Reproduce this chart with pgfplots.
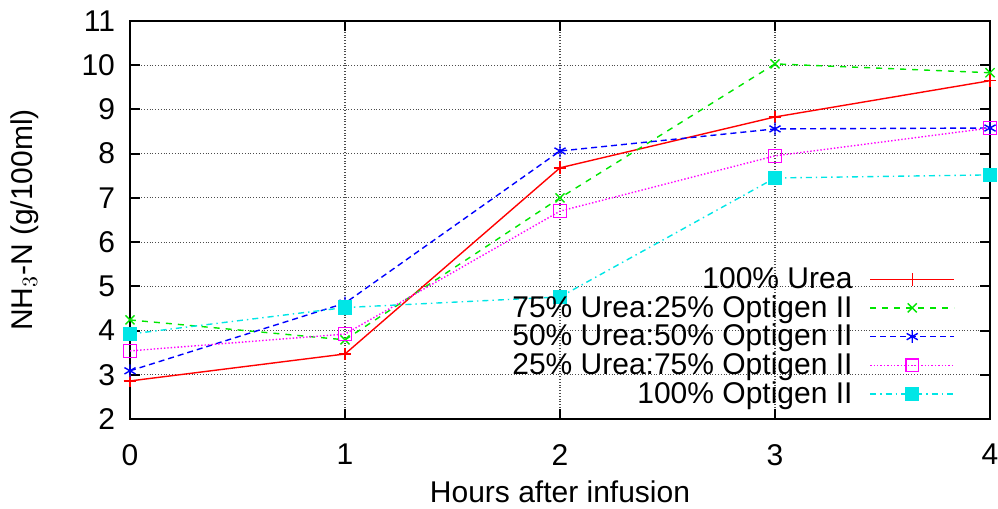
\documentclass[border=0pt]{standalone}
\usepackage{pgfplots}
\pgfplotsset{compat=1.18}
\usepackage{fontspec}
\setmainfont{Liberation Sans}
\definecolor{gred}{RGB}{255,0,0}
\definecolor{ggreen}{RGB}{0,230,0}
\definecolor{gblue}{RGB}{0,0,255}
\definecolor{gmag}{RGB}{255,0,255}
\definecolor{gcyan}{RGB}{0,230,230}
\pgfdeclarelayer{legbg}
\pgfplotsset{layers/mylayers/.define layer set={axis background,axis grid,legbg,axis ticks,main,axis lines,axis tick labels,axis descriptions,axis foreground}{}}
\begin{document}
\begin{tikzpicture}
\begin{axis}[
  set layers=mylayers,
  scale only axis,
  width=430pt, height=199pt,
  xmin=0, xmax=4, ymin=2, ymax=11,
  xtick={0,1,2,3,4}, ytick={2,3,4,5,6,7,8,9,10,11},
  /pgf/number format/assume math mode=true,
  tick label style={font=\fontsize{15}{17}\selectfont},
  yticklabel style={xshift=-4pt},
  xticklabel style={yshift=-9pt},
  every axis x label/.style={at={(rel axis cs:0.5,0)}, yshift=-36.5pt, anchor=center, font=\fontsize{15}{17}\selectfont},
  every axis y label/.style={at={(rel axis cs:0,0.5)}, xshift=-52.5pt, rotate=90, anchor=center, font=\fontsize{15}{17}\selectfont},
  xlabel={Hours after infusion},
  ylabel={NH$_3$-N (g/100ml)},
  axis line style={line width=1pt},
  major tick style={line width=1pt, black},
  major tick length=5pt,
  grid=major,
  major grid style={densely dotted, black!70, line width=0.6pt},
  legend cell align=right,
  legend plot pos=right,
  legend style={draw=none, fill=none, font=\fontsize{15}{17}\selectfont,
    at={(rel axis cs:0.962,0.018)}, anchor=south east, row sep=-1pt, column sep=7pt, inner sep=1pt,
    nodes={inner sep=1.5pt}},
  legend image code/.code={\draw[mark repeat=2,mark phase=2,#1] plot coordinates {(0pt,0pt)(21pt,0pt)(42pt,0pt)};},
  every axis plot/.append style={line width=0.7pt, mark size=3.2pt},
]
\begin{pgfonlayer}{legbg}
\fill[white] (rel axis cs:0.366,0.03) rectangle (rel axis cs:0.97,0.41);
\end{pgfonlayer}
\addplot[gred, mark=+, mark options={solid}] coordinates {(0,2.86)(1,3.47)(2,7.68)(3,8.83)(4,9.65)};
\addlegendentry{100\% Urea}
\addplot[ggreen, dashed, mark=x, mark options={solid}] coordinates {(0,4.24)(1,3.79)(2,7.0)(3,10.03)(4,9.83)};
\addlegendentry{75\% Urea:25\% Optigen II}
\addplot[gblue, densely dashed, mark=asterisk, mark options={solid}] coordinates {(0,3.09)(1,4.62)(2,8.06)(3,8.56)(4,8.58)};
\addlegendentry{50\% Urea:50\% Optigen II}
\addplot[gmag, densely dotted, mark=square, mark options={solid}] coordinates {(0,3.54)(1,3.92)(2,6.7)(3,7.95)(4,8.58)};
\addlegendentry{25\% Urea:75\% Optigen II}
\addplot[gcyan, dash dot, mark=square*, mark options={solid}] coordinates {(0,3.92)(1,4.52)(2,4.76)(3,7.45)(4,7.52)};
\addlegendentry{100\% Optigen II}
\coordinate (ll) at (rel axis cs:0,0);
\coordinate (ur) at (rel axis cs:1,1);
\end{axis}
\path (ll) ++(-65pt,-45pt) coordinate (bba);
\path (ur) ++(4pt,10.5pt) coordinate (bbb);
\pgfresetboundingbox
\path[use as bounding box] (bba) rectangle (bbb);
\end{tikzpicture}
\end{document}
